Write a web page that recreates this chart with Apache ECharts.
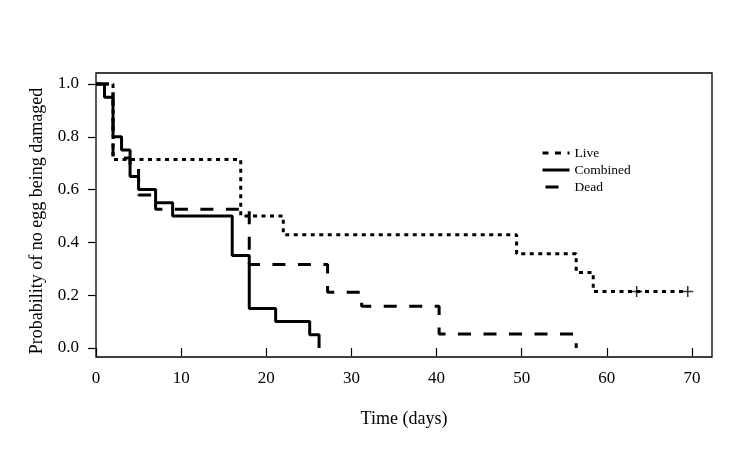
<!DOCTYPE html>
<html>
<head>
<meta charset="utf-8">
<script src="https://cdn.jsdelivr.net/npm/echarts@6/dist/echarts.min.js"></script>
<style>html,body{margin:0;padding:0;background:#fff}#c{width:750px;height:450px}</style>
</head>
<body>
<div id="c"></div>
<script>
// Kaplan-Meier step data
const liveTimes = [0, 2, 17, 22, 49.4, 56.4, 58.4, 69.5];
const liveSurv  = [1, 0.714, 0.5, 0.429, 0.357, 0.286, 0.214, 0.214];
const liveCensorTimes = [63.5, 69.5];
const liveCensorSurv  = [0.214, 0.214];

const combinedTimes = [0, 1, 2, 3, 4, 5, 7, 9, 16, 18, 21.1, 25.1, 26.2];
const combinedSurv  = [1, 0.95, 0.80, 0.75, 0.65, 0.60, 0.55, 0.50, 0.35, 0.15, 0.10, 0.05, 0];

const deadTimes = [0, 2, 4, 5, 7, 18, 27.2, 31.2, 40.3, 56.4];
const deadSurv  = [1, 0.72, 0.68, 0.58, 0.526, 0.316, 0.211, 0.158, 0.053, 0];

const xTicks = [0, 10, 20, 30, 40, 50, 60, 70];
const yTicks = [0, 0.2, 0.4, 0.6, 0.8, 1.0];
const seriesNames = ['Live', 'Combined', 'Dead'];

const pairs = (xs, ys) => xs.map((x, i) => [x, ys[i]]);
const FONT = 'Liberation Serif';

const chart = echarts.init(document.getElementById('c'), null, {renderer: 'canvas'});
chart.setOption({
  animation: false,
  backgroundColor: '#fff',
  grid: {left: 96, right: 38, top: 73, bottom: 93, show: true, borderColor: '#000', borderWidth: 1.3, backgroundColor: 'transparent'},
  xAxis: {
    type: 'value', min: 0, max: 72.35,
    name: 'Time (days)', nameLocation: 'middle', nameGap: 53,
    nameTextStyle: {fontFamily: FONT, fontSize: 18, color: '#000'},
    axisLine: {show: false},
    splitLine: {show: false},
    axisTick: {show: true, inside: false, length: 8, lineStyle: {color: '#000', width: 1.2}, customValues: xTicks},
    axisLabel: {fontFamily: FONT, fontSize: 17, color: '#000', margin: 13, customValues: xTicks}
  },
  yAxis: {
    type: 'value', min: -0.0341, max: 1.0417,
    name: 'Probability of no egg being damaged', nameLocation: 'middle', nameGap: 50, nameRotate: 90,
    nameTextStyle: {fontFamily: FONT, fontSize: 18, color: '#000', padding: [0, 12, 0, 0]},
    axisLine: {show: false},
    splitLine: {show: false},
    axisTick: {show: true, inside: false, length: 8, lineStyle: {color: '#000', width: 1.2}, customValues: yTicks},
    axisLabel: {fontFamily: FONT, fontSize: 17, color: '#000', margin: 17, customValues: yTicks,
      formatter: v => v.toFixed(1)}
  },
  legend: {
    data: [
      {name: seriesNames[0], lineStyle: {type: [6, 6.5], width: 3, cap: 'butt'}},
      {name: seriesNames[1], lineStyle: {type: 'solid', width: 3}},
      {name: seriesNames[2], lineStyle: {type: [13, 20], dashOffset: -3, width: 3, cap: 'butt'}}
    ],
    orient: 'vertical', left: 536, top: 141,
    itemWidth: 27, itemHeight: 14, itemGap: 3,
    itemStyle: {opacity: 0},
    lineStyle: {width: 3},
    textStyle: {fontFamily: FONT, fontSize: 13.5, color: '#000'}
  },
  series: [
    {name: 'Live', type: 'line', step: 'end', symbol: 'none', data: pairs(liveTimes, liveSurv),
      lineStyle: {color: '#000', width: 3, type: [4, 4.5], cap: 'butt'}, itemStyle: {color: '#000'}},
    {name: 'Combined', type: 'line', step: 'end', symbol: 'none', data: pairs(combinedTimes, combinedSurv),
      lineStyle: {color: '#000', width: 3, type: 'solid'}, itemStyle: {color: '#000'}},
    {name: 'Dead', type: 'line', step: 'end', symbol: 'none', data: pairs(deadTimes, deadSurv),
      lineStyle: {color: '#000', width: 3, type: [13, 12.5], cap: 'butt'}, itemStyle: {color: '#000'}},
    {name: 'Live censored', type: 'scatter', data: pairs(liveCensorTimes, liveCensorSurv),
      symbol: 'path://M0,4.3 L10,4.3 L10,5.7 L0,5.7 Z M4.3,0 L5.7,0 L5.7,10 L4.3,10 Z',
      symbolSize: 11, itemStyle: {color: '#000'}, z: 5}
  ]
});
</script>
</body>
</html>
